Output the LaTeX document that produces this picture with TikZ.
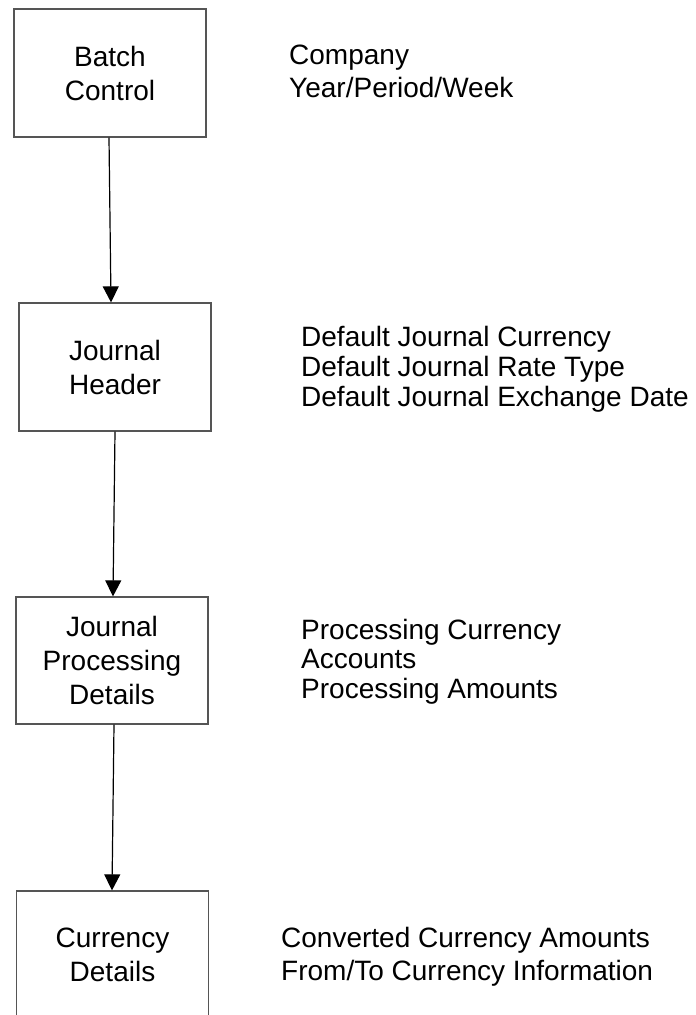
\documentclass[tikz,border=0pt]{standalone}
\usepackage{fontspec}
\setmainfont{Liberation Sans}
\usetikzlibrary{arrows.meta}
\definecolor{boxline}{RGB}{85,85,85}
\tikzset{
  box/.style={draw=boxline, line width=1.3pt, rectangle, minimum width=192pt, inner sep=0pt,
    align=center, font=\fontsize{28}{34}\selectfont},
  info/.style={anchor=base west, inner sep=0pt, align=left},
  conn/.style={draw=black, line width=1.2pt, -{Triangle[width=16pt,length=16pt]}}
}
\begin{document}
\begin{tikzpicture}[x=1pt,y=-1pt]
\useasboundingbox (0,0) rectangle (696,1015);
\clip (0,0) rectangle (696,1015);
\node[box, minimum height=128pt] (b1) at (110,73) {Batch\\Control};
\node[box, minimum height=128pt] (b2) at (115,367) {Journal\\Header};
\node[box, minimum height=127pt] (b3) at (112,660.5) {Journal\\Processing\\Details};
\node[box, minimum height=128pt] (b4) at (112.5,955) {Currency\\Details};
\draw[conn] ([xshift=-1pt]b1.south) -- ([xshift=-4pt]b2.north);
\draw[conn] (b2.south) -- ([xshift=1pt]b3.north);
\draw[conn] ([xshift=2pt]b3.south) -- ([xshift=-0.5pt]b4.north);
\node[info, font=\fontsize{28}{33}\selectfont] (t1) at (289,97.5) {Company\\Year/Period/Week};
\node[info, font=\fontsize{28}{30}\selectfont] (t2) at (301,406) {Default Journal Currency\\Default Journal Rate Type\\Default Journal Exchange Date};
\node[info, font=\fontsize{28}{29.5}\selectfont] (t3) at (301,698) {Processing Currency\\Accounts\\Processing Amounts};
\node[info, font=\fontsize{28}{33}\selectfont] (t4) at (281,980) {Converted Currency Amounts\\From/To Currency Information};
\end{tikzpicture}
\end{document}
